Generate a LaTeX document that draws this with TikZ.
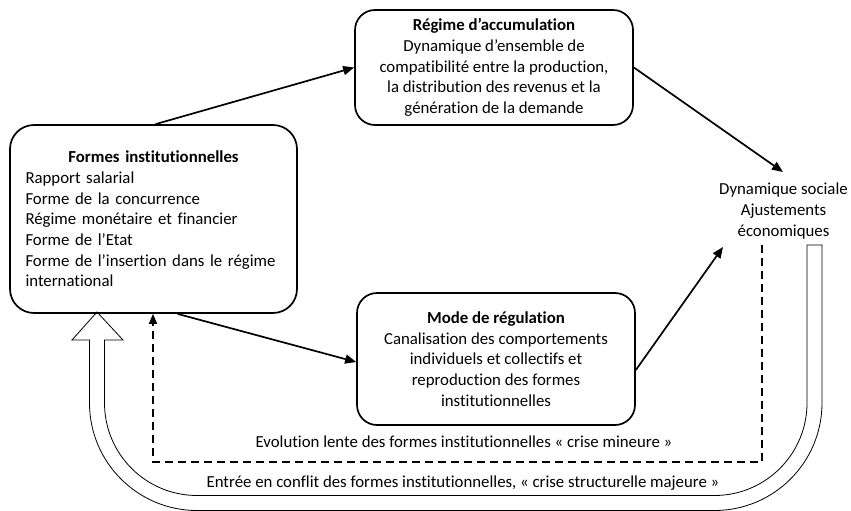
\documentclass[tikz,border=0pt]{standalone}
\usepackage{fontspec}
\setmainfont{Carlito}[Ligatures=NoCommon]
\usetikzlibrary{arrows.meta}
\begin{document}
\begin{tikzpicture}[x=1pt,y=-1pt,
  every node/.style={font=\fontsize{16.8}{20.7}\selectfont},
  box/.style={draw, line width=1.7pt, rounded corners=20pt, align=center, inner sep=0pt},
  conn/.style={line width=1.7pt, -{Triangle[length=11pt,width=9pt]}},
  dashconn/.style={line width=1.7pt, dash pattern=on 8pt off 5pt, -{Triangle[length=10pt,width=8pt]}},
  band/.style={draw, line width=0.8pt, fill=white, line join=miter}]
\useasboundingbox (0,0) rectangle (851,511);
\fill[white] (0,0) rectangle (851,511);

% hollow U arrow
\draw[band] (822,245) -- (822,403) arc[start angle=0, end angle=90, radius=107.5]
  -- (197,510.5) arc[start angle=90, end angle=180, radius=107.5]
  -- (89.5,340) -- (72,340) -- (97,312) -- (123,340) -- (104.5,340) -- (104.5,403)
  arc[start angle=180, end angle=90, radius=92.5]
  -- (714.5,495.5) arc[start angle=90, end angle=0, radius=92.5]
  -- (807,245) -- cycle;

\node[box, rounded corners=24pt, minimum width=287pt, minimum height=188pt, text width=256pt, align=left] (formes) at (153.5,219)
 {{\centering\textbf{Formes institutionnelles}\par}
  Rapport salarial\\
  Forme de la concurrence\\
  Régime monétaire et financier\\
  Forme de l’Etat\\
  Forme de l’insertion dans le régime\\
  international};

\node[box, minimum width=278pt, minimum height=115pt] (regime) at (494,67.5)
 {\textbf{Régime d’accumulation}\\Dynamique d’ensemble de\\compatibilité entre la production,\\la distribution des revenus et la\\génération de la demande};

\node[box, minimum width=278pt, minimum height=132pt] (mode) at (496,359)
 {\textbf{Mode de régulation}\\Canalisation des comportements\\individuels et collectifs et\\reproduction des formes\\institutionnelles};

\node[align=center] (dyn) at (783.5,211) {Dynamique sociale\\Ajustements\\économiques};

\node (evol) at (464,442) {Evolution lente des formes institutionnelles « crise mineure »};
\node (conflit) at (463,483) {Entrée en conflit des formes institutionnelles, « crise structurelle majeure »};

\coordinate (dynin) at (723,247);
\coordinate (dyntop) at (783,172);
\coordinate (dyndash) at (762,245);
\coordinate (dl) at (153,462);

\draw[conn] ([xshift=2pt]formes.north) -- (regime.west);
\draw[conn] (regime.east) -- (dyntop);
\draw[conn] ([xshift=24pt]formes.south) -- ([yshift=-3pt]mode.west);
\draw[conn] ([yshift=-11pt]mode.east) -- (dynin);
\draw[dashconn] (dyndash) |- (dl) -- (dl |- formes.south);
\end{tikzpicture}
\end{document}
